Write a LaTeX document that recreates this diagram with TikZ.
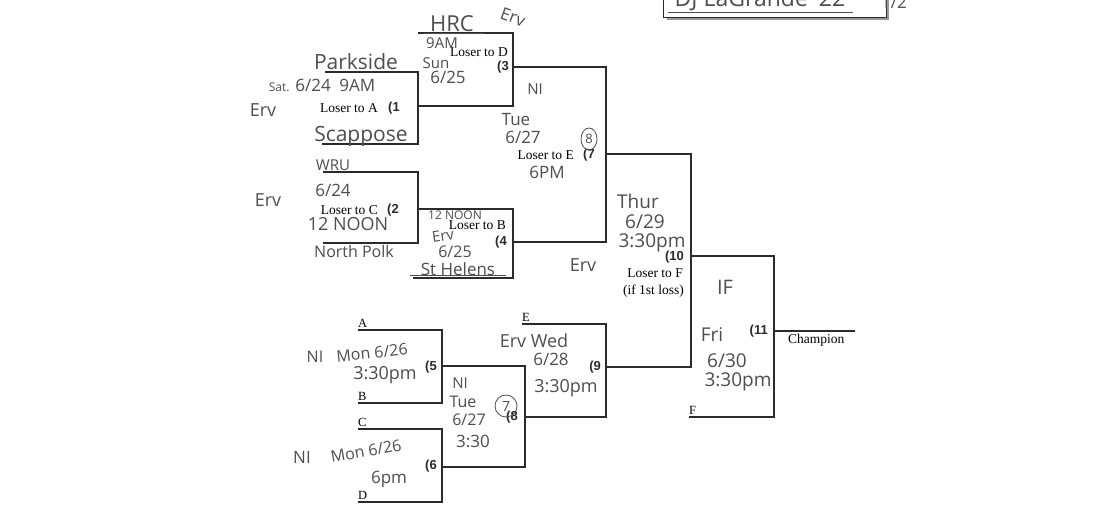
\documentclass[tikz,border=0pt]{standalone}
\usepackage{fontspec}
\usetikzlibrary{positioning, calc}
\newfontfamily\printfont{Liberation Serif}
\newfontfamily\numfont{Liberation Sans}
\newfontfamily\hand{Open Sans}
\definecolor{inkLine}{HTML}{2b2b2b}
\definecolor{penGray}{HTML}{4e4e4e}
\definecolor{shadowGray}{HTML}{9a9a9a}
\def\lineW{1.7pt}

\tikzset{
  bracket/.style={draw=inkLine, line width=\lineW, line join=miter},
  loser/.style={font=\printfont\fontsize{13.5}{14}\selectfont, text=black,
                inner sep=0pt, anchor=east},
  gamenum/.style={font=\numfont\bfseries\fontsize{13}{14}\selectfont,
                  text=inkLine, inner sep=0pt, anchor=east},
  seed/.style={font=\printfont\fontsize{12.5}{13}\selectfont, inner sep=0pt,
               anchor=south west, yshift=2.5pt},
  hw/.style={font=\hand\fontsize{#1}{#1}\selectfont, text=penGray,
             inner sep=0pt},
  hw/.default=17,
  ring/.style={draw=penGray, line width=0.8pt}
}

\begin{document}
\begin{tikzpicture}[x=1pt, y=-1pt]

    % ==========================================================
    % 1. PAGE
    % ==========================================================
    \useasboundingbox (0,0) rectangle (1110,520);
    \fill[white] (0,0) rectangle (1110,520);
    \clip (0,0) rectangle (1110,520);

    % ==========================================================
    % 2. NAMED COORDINATES (bracket corners, y grows downward)
    % ==========================================================
    \coordinate (g1tl) at (325,72);   \coordinate (g1tr) at (418,72);
    \coordinate (g1br) at (418,144);  \coordinate (g1bl) at (322,144);
    \coordinate (g2tl) at (323,172);  \coordinate (g2tr) at (418,172);
    \coordinate (g2br) at (418,243);  \coordinate (g2bl) at (323,243);
    \coordinate (g3tl) at (418,33);   \coordinate (g3tr) at (513,33);
    \coordinate (g3br) at (513,106);  \coordinate (g3bl) at (418,106);
    \coordinate (g4tl) at (418,209);  \coordinate (g4tr) at (513,209);
    \coordinate (g4br) at (513,278);  \coordinate (g4bl) at (413,278);
    \coordinate (g7tl) at (513,67);   \coordinate (g7tr) at (606,67);
    \coordinate (g7br) at (606,242);  \coordinate (g7bl) at (513,242);
    \coordinate (g10tl) at (606,154); \coordinate (g10tr) at (691,154);
    \coordinate (g10br) at (691,367); \coordinate (g10bl) at (606,367);
    \coordinate (g5tl) at (358,330);  \coordinate (g5tr) at (442,330);
    \coordinate (g5br) at (442,403);  \coordinate (g5bl) at (358,403);
    \coordinate (g6tl) at (358,429);  \coordinate (g6tr) at (442,429);
    \coordinate (g6br) at (442,502);  \coordinate (g6bl) at (358,502);
    \coordinate (g8tl) at (442,366);  \coordinate (g8tr) at (525,366);
    \coordinate (g8br) at (525,467);  \coordinate (g8bl) at (442,467);
    \coordinate (g9tl) at (522,324);  \coordinate (g9tr) at (606,324);
    \coordinate (g9br) at (606,417);  \coordinate (g9bl) at (525,417);
    \coordinate (g11tl) at (691,256); \coordinate (g11tr) at (774,256);
    \coordinate (g11br) at (774,417); \coordinate (g11bl) at (689,417);
    \coordinate (champL) at (774,331);
    \coordinate (champR) at (855,331);

    % ==========================================================
    % 3. BRACKET LINES
    % ==========================================================
    \foreach \g in {1,2,3,4,5,6,7,8,9,10,11}{
        \draw[bracket] (g\g tl) -- (g\g tr) -- (g\g br) -- (g\g bl);
    }
    \draw[bracket] (champL) -- (champR);

    % ==========================================================
    % 4. TITLE BOX (top right, cut by the page edge)
    % ==========================================================
    \fill[shadowGray] (667,-5) rectangle (889,20);
    \filldraw[fill=white, draw=inkLine, line width=1pt] (663,-5) rectangle (886,17);
    \node[hw=23, anchor=center] (title) at (760,0) {DJ LaGrande '22};
    \draw[penGray, line width=1pt] (668,12) -- (853,12);
    \node[hw=17, anchor=center] (half) at (894,2) {1/2};

    % ==========================================================
    % 5. PRINTED LABELS
    % ==========================================================
    \node[loser] (lostD) at (508,52)  {Loser to D};
    \node[gamenum] (n3) at (509,67)   {(3};
    \node[loser] (lostA) at (378,108) {Loser to A};
    \node[gamenum] (n1) at (400,108)  {(1};
    \node[loser] (lostC) at (378,210) {Loser to C};
    \node[gamenum] (n2) at (399,210)  {(2};
    \node[loser] (lostB) at (506,225) {Loser to B};
    \node[gamenum] (n4) at (507,242)  {(4};
    \node[loser] (lostE) at (574,155) {Loser to E};
    \node[gamenum] (n7) at (595,155)  {(7};
    \node[gamenum] (n10) at (684,257) {(10};
    \node[loser] (lostF) at (683,273) {Loser to F};
    \node[loser] (firstLoss) at (684,291) {(if 1st loss)};
    \node[gamenum] (n11) at (768,331) {(11};
    \node[loser, anchor=west] (champ) at (788,340) {Champion};
    \node[gamenum] (n5) at (437,367)  {(5};
    \node[gamenum] (n6) at (437,466)  {(6};
    \node[gamenum] (n8) at (518,417)  {(8};
    \node[gamenum] (n9) at (601,367)  {(9};
    \node[seed] (sA) at (g5tl) {A};
    \node[seed] (sB) at (g5bl) {B};
    \node[seed] (sC) at (g6tl) {C};
    \node[seed] (sD) at (g6bl) {D};
    \node[seed] (sE) at (g9tl) {E};
    \node[seed] (sF) at (g11bl) {F};

    % ==========================================================
    % 6. HANDWRITTEN NOTES
    % ==========================================================
    % upper bracket
    \node[hw=22] (hrc) at (452,24) {HRC};
    \draw[penGray, line width=0.8pt] (424,33) -- (484,33);
    \node[hw=17, rotate=-20] (ervTop) at (513,17) {Erv};
    \node[hw=15] (nineAM) at (442,43) {9AM};
    \node[hw=15] (sun) at (436,63) {Sun};
    \node[hw=17] (d625a) at (448,77) {6/25};
    \node[hw=21] (parkside) at (356,62) {Parkside};
    \node[hw=17] (sat) at (322,85) {{\fontsize{12}{12}\selectfont Sat.} 6/24\enspace 9AM};
    \node[hw=18] (erv1) at (263,110) {Erv};
    \node[hw=21] (scappose) at (361,136) {Scappose};
    \node[hw=15] (wru) at (333,165) {WRU};
    \node[hw=17] (d624) at (333,190) {6/24};
    \node[hw=18] (erv2) at (268,200) {Erv};
    \node[hw=18] (noon1) at (348,224) {12 NOON};
    \node[hw=16] (polk) at (354,251) {North Polk};
    \node[hw=12] (noon2) at (455,215) {12 NOON};
    \node[hw=15, rotate=8] (erv4) at (443,236) {Erv};
    \node[hw=16] (d625b) at (455,252) {6/25};
    \node[hw=17] (helens) at (458,269) {St Helens};
    \draw[penGray, line width=0.8pt] (410,275) -- (506,275);
    \node[hw=15] (ni7) at (535,89)  {NI};
    \node[hw=17] (tue7) at (516,120) {Tue};
    \node[hw=17] (d627a) at (523,137) {6/27};
    \node[hw=17] (sixPM) at (547,172) {6PM};
    \node[hw=13] (eight) at (589,139) {8};
    \draw[ring] (eight) ellipse (8pt and 11pt);
    \node[hw=19] (thur) at (638,201) {Thur};
    \node[hw=19] (d629) at (645,222) {6/29};
    \node[hw=19] (t10) at (652,243) {3:30pm};
    \node[hw=18] (erv10) at (583,265) {Erv};
    \node[hw=20] (ifGame) at (725,287) {IF};
    \node[hw=19] (fri) at (712,335) {Fri};
    \node[hw=19] (d630) at (727,361) {6/30};
    \node[hw=19] (t11) at (738,382) {3:30pm};

    % lower bracket
    \node[hw=16] (ni5) at (315,357) {NI};
    \node[hw=16, rotate=6] (mon5) at (372,353) {Mon 6/26};
    \node[hw=18] (t5) at (385,375) {3:30pm};
    \node[hw=15] (ni8) at (460,383) {NI};
    \node[hw=16] (tue8) at (463,402) {Tue};
    \node[hw=16] (d627b) at (469,420) {6/27};
    \node[hw=17] (t8) at (473,441) {3:30};
    \node[hw=14] (seven) at (506,406) {7};
    \draw[ring] (seven) ellipse (11pt and 11pt);
    \node[hw=17] (ni6) at (302,457) {NI};
    \node[hw=16, rotate=10] (mon6) at (366,451) {Mon 6/26};
    \node[hw=17] (t6) at (389,479) {6pm};
    \node[hw=18] (ervWed) at (534,341) {Erv Wed};
    \node[hw=17] (d628) at (551,359) {6/28};
    \node[hw=18] (t9) at (566,388) {3:30pm};

\end{tikzpicture}
\end{document}
